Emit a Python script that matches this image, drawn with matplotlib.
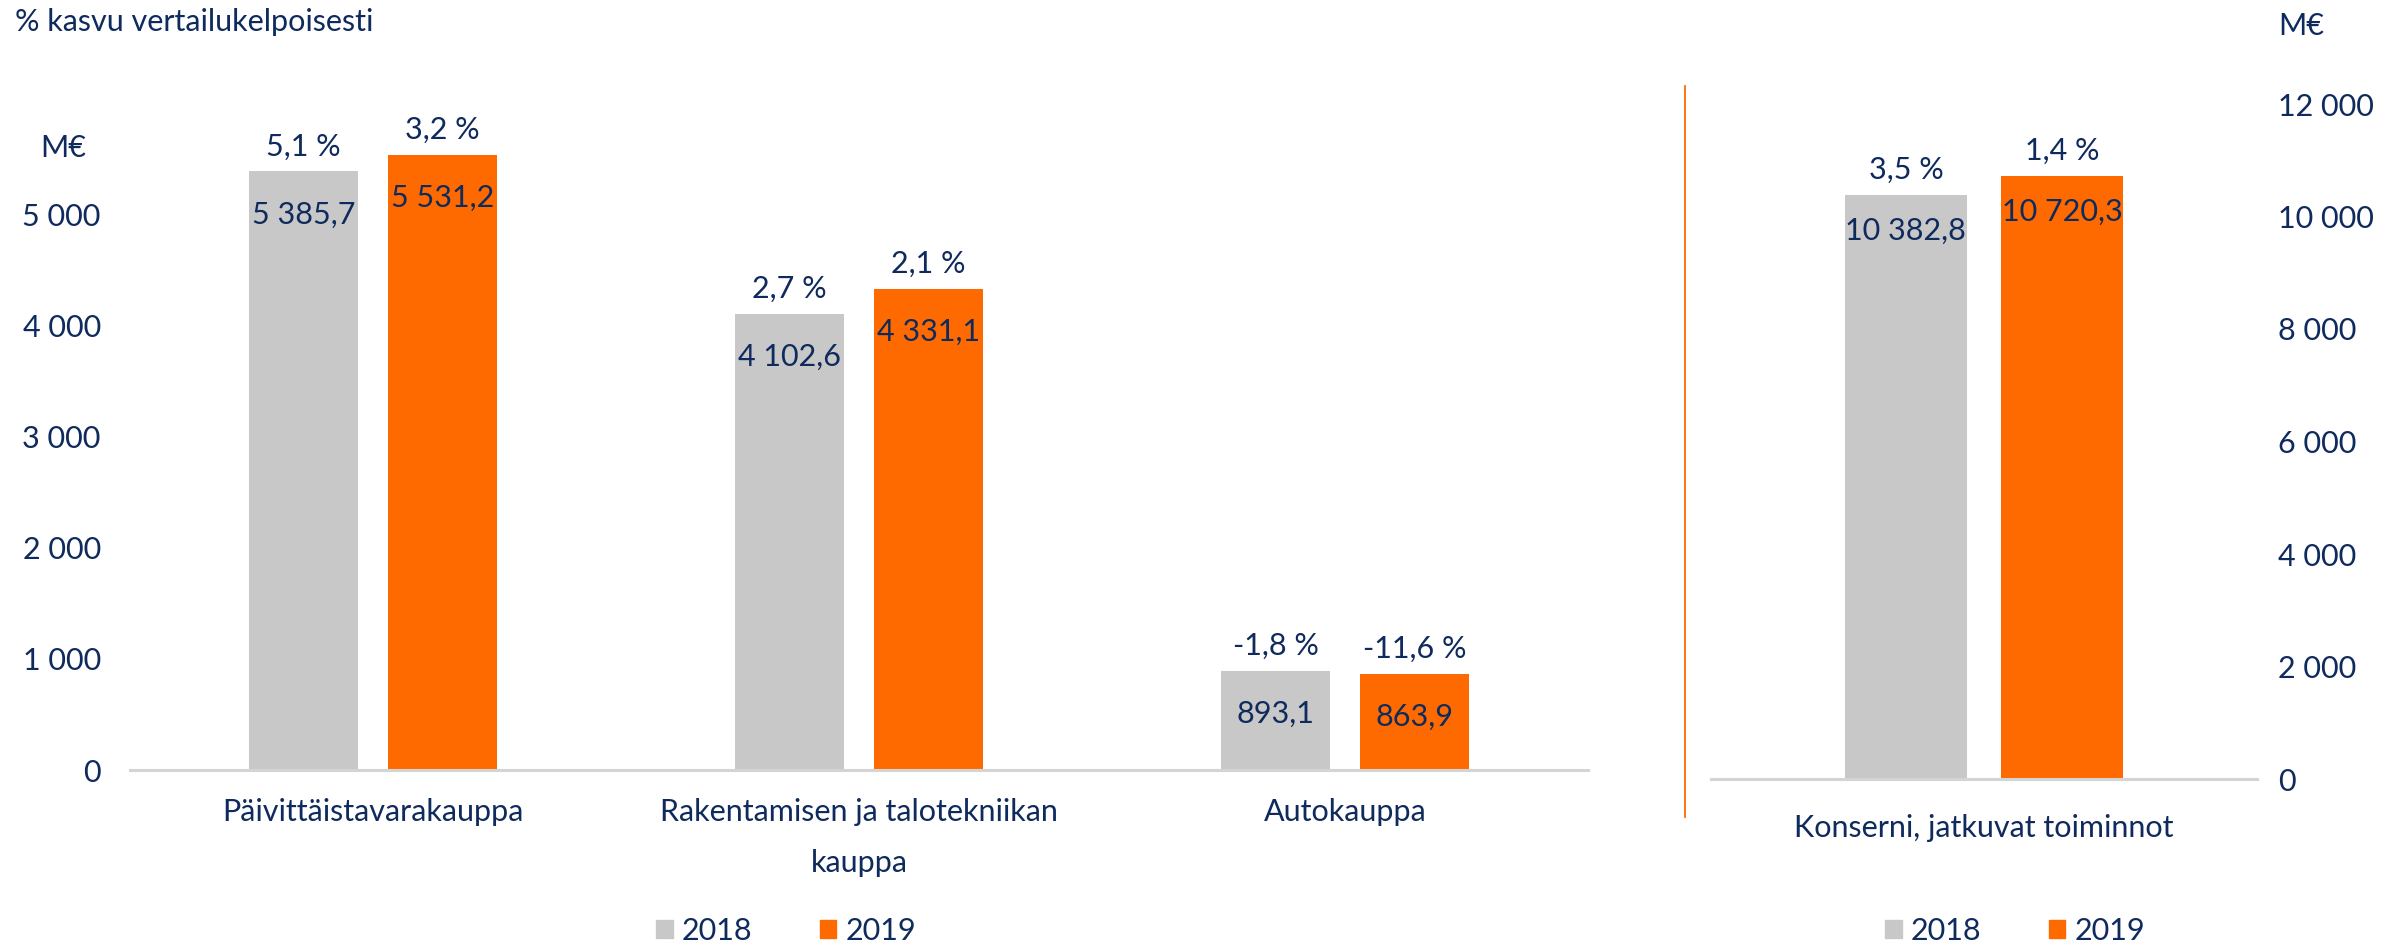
import numpy as np
import matplotlib.pyplot as plt
from matplotlib.lines import Line2D
from matplotlib.patches import Patch

# ---- data ----
segments = ["Päivittäistavarakauppa", "Rakentamisen ja talotekniikan\nkauppa", "Autokauppa"]
sales_2018 = [5385.7, 4102.6, 893.1]
sales_2019 = [5531.2, 4331.1, 863.9]
growth_2018 = [5.1, 2.7, -1.8]
growth_2019 = [3.2, 2.1, -11.6]

group_label = ["Konserni, jatkuvat toiminnot"]
group_2018 = [10382.8]
group_2019 = [10720.3]
group_growth_2018 = [3.5]
group_growth_2019 = [1.4]

years = ["2018", "2019"]

NAVY = "#0f2a5c"
GREY = "#c8c8c8"
ORANGE = "#ff6a00"
FS = 22

plt.rcParams["font.family"] = ["Lato", "DejaVu Sans"]
plt.rcParams["text.color"] = NAVY


def fmt_num(v):
    return f"{v:,.1f}".replace(",", " ").replace(".", ",")


def fmt_pct(v):
    return f"{v:.1f}".replace(".", ",") + " %"


def fmt_tick(v, pos=None):
    return f"{int(v):,}".replace(",", " ")


def draw_bars(ax, vals_a, vals_b, pct_a, pct_b, inner_off):
    x = np.arange(len(vals_a))
    w = 0.224
    off = 0.143
    ba = ax.bar(x - off, vals_a, w, color=GREY, zorder=2)
    bb = ax.bar(x + off, vals_b, w, color=ORANGE, zorder=2)
    for bars, vals, pcts in ((ba, vals_a, pct_a), (bb, vals_b, pct_b)):
        for b, v, p in zip(bars, vals, pcts):
            cx = b.get_x() + b.get_width() / 2
            ax.annotate(fmt_num(v), (cx, v), xytext=(0, -inner_off), textcoords="offset points",
                        ha="center", va="center", fontsize=FS, color=NAVY)
            ax.annotate(fmt_pct(p), (cx, v), xytext=(0, 18), textcoords="offset points",
                        ha="center", va="center", fontsize=FS, color=NAVY)
    for s in ("top", "left", "right"):
        ax.spines[s].set_visible(False)
    ax.spines["bottom"].set_color("#d4d4d4")
    ax.spines["bottom"].set_linewidth(2.2)
    ax.yaxis.set_major_formatter(plt.FuncFormatter(fmt_tick))
    ax.tick_params(axis="both", length=0, labelsize=FS, labelcolor=NAVY)
    ax.set_xlim(-0.5, len(vals_a) - 0.5)


W, H = 2405, 946
fig = plt.figure(figsize=(W / 100, H / 100), dpi=100)

# left chart: segments
ax1 = fig.add_axes([130 / W, 1 - 770 / H, 1458 / W, 667 / H])
draw_bars(ax1, sales_2018, sales_2019, growth_2018, growth_2019, 31)
ax1.set_ylim(0, 6000)
ax1.set_yticks(np.arange(0, 6000, 1000))
ax1.tick_params(axis="y", pad=21)
ax1.set_xticks(range(len(segments)))
ax1.set_xticklabels(segments, linespacing=2.0)
ax1.tick_params(axis="x", pad=20)

# right chart: group total
ax2 = fig.add_axes([1711 / W, 1 - 779 / H, 546 / W, 675 / H])
draw_bars(ax2, group_2018, group_2019, group_growth_2018, group_growth_2019, 26)
ax2.set_ylim(0, 12000)
ax2.set_yticks(np.arange(0, 12001, 2000))
ax2.yaxis.tick_right()
ax2.tick_params(axis="y", pad=15)
ax2.set_xticks([0])
ax2.set_xticklabels(group_label)
ax2.tick_params(axis="x", pad=25)

# texts
fig.text(15 / W, 1 - 22 / H, "% kasvu vertailukelpoisesti", fontsize=FS, ha="left", va="center")
fig.text(40 / W, 1 - 148 / H, "M€", fontsize=FS, ha="left", va="center")
fig.text(2278 / W, 1 - 26 / H, "M€", fontsize=FS, ha="left", va="center")

# orange separator
fig.add_artist(Line2D([1685 / W, 1685 / W], [1 - 86 / H, 1 - 817 / H],
                      transform=fig.transFigure, color=ORANGE, lw=1.3))

# legends
handles = [Patch(color=GREY, label=years[0]), Patch(color=ORANGE, label=years[1])]
for cx in (786, 2015):
    fig.legend(handles=handles, loc="center", bbox_to_anchor=(cx / W, 1 - 931 / H),
               ncol=2, frameon=False, fontsize=FS, handlelength=0.55, handleheight=0.55,
               handletextpad=0.3, columnspacing=2.2, labelcolor=NAVY)

fig.savefig("out.png", dpi=100)
